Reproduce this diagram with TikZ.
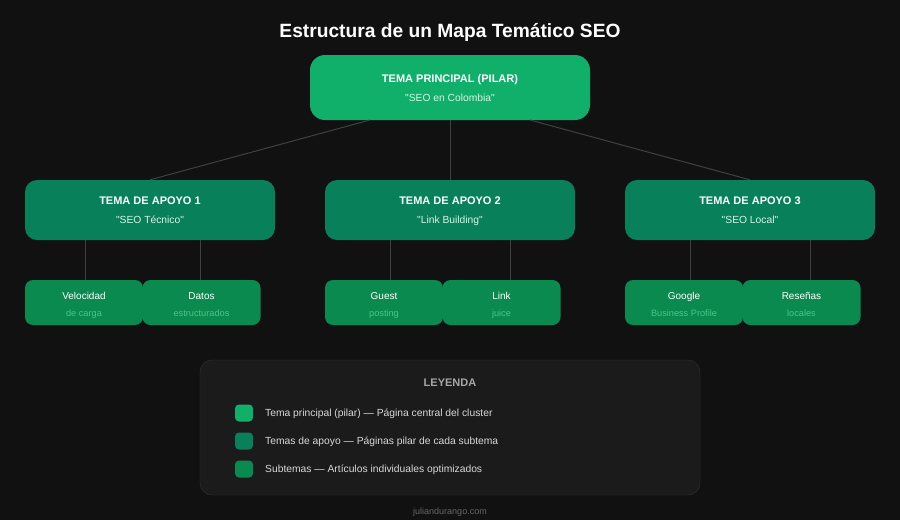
\documentclass[tikz,border=0pt]{standalone}
\usepackage{fontspec}
\setmainfont{Liberation Sans}[Ligatures=TeXOff]
\definecolor{fondo}{HTML}{111111}
\definecolor{pilarverde}{HTML}{10B06B}
\definecolor{apoyoverde}{HTML}{08805A}
\definecolor{subverde}{HTML}{0B8A50}
\definecolor{menta}{HTML}{D6F5E5}
\definecolor{subtexto}{HTML}{4CC583}
\definecolor{linea}{HTML}{404040}
\definecolor{leyfondo}{HTML}{1B1B1B}
\definecolor{leyborde}{HTML}{333333}
\tikzset{
  pilarbox/.style={fill=pilarverde, rounded corners=15pt, minimum width=280pt, minimum height=65pt, inner sep=0pt},
  apoyobox/.style={fill=apoyoverde, rounded corners=12pt, minimum width=250pt, minimum height=60pt, inner sep=0pt},
  subbox/.style={fill=subverde, rounded corners=8pt, minimum width=118pt, minimum height=45pt, inner sep=0pt},
  titulo/.style={text=white, anchor=base, inner sep=0pt, font=\bfseries\fontsize{11}{13}\selectfont},
  cita/.style={text=menta, anchor=base, inner sep=0pt, font=\fontsize{10.3}{12}\selectfont},
  subtit/.style={text=white, anchor=base, inner sep=0pt, font=\fontsize{10}{12}\selectfont},
  subdet/.style={text=subtexto, anchor=base, inner sep=0pt, font=\fontsize{9.2}{11}\selectfont},
  enlace/.style={draw=linea, line width=1pt},
  muestra/.style={rounded corners=4pt, minimum width=18pt, minimum height=17pt, inner sep=0pt},
  leytexto/.style={text=white!85!black, font=\fontsize{10.3}{12}\selectfont, anchor=base west, inner sep=0pt}
}
\begin{document}
\begin{tikzpicture}[x=1pt,y=-1pt]
  \fill[fondo] (0,0) rectangle (900,520);
  \useasboundingbox (0,0) rectangle (900,520);
  \node[text=white, anchor=base, inner sep=0pt, font=\bfseries\fontsize{19.2}{22}\selectfont] (titulo) at (450,37) {Estructura de un Mapa Temático SEO};
  % pilar
  \node[pilarbox] (pilar) at (450,87.5) {};
  \node[titulo] (pilart) at ([yshift=5.5pt]pilar.center) {TEMA PRINCIPAL (PILAR)};
  \node[cita] (pilarc) at ([yshift=-14pt]pilar.center) {"SEO en Colombia"};
  % temas de apoyo
  \node[apoyobox] (apoyo1) at (150,210) {};
  \node[apoyobox] (apoyo2) at (450,210) {};
  \node[apoyobox] (apoyo3) at (750,210) {};
  \node[titulo] at ([yshift=6pt]apoyo1.center) {TEMA DE APOYO 1};
  \node[cita] at ([yshift=-13.5pt]apoyo1.center) {"SEO Técnico"};
  \node[titulo] at ([yshift=6pt]apoyo2.center) {TEMA DE APOYO 2};
  \node[cita] at ([yshift=-13.5pt]apoyo2.center) {"Link Building"};
  \node[titulo] at ([yshift=6pt]apoyo3.center) {TEMA DE APOYO 3};
  \node[cita] at ([yshift=-13.5pt]apoyo3.center) {"SEO Local"};
  \coordinate (pilarizq) at (370,120);
  \coordinate (pilarder) at (530,120);
  \draw[enlace] (pilarizq) -- (apoyo1.north);
  \draw[enlace] (pilar.south) -- (apoyo2.north);
  \draw[enlace] (pilarder) -- (apoyo3.north);
  % conectores a subtemas
  \draw[enlace] (85,240) -- (85,280);
  \draw[enlace] (200,240) -- (200,280);
  \draw[enlace] (390,240) -- (390,280);
  \draw[enlace] (510,240) -- (510,280);
  \draw[enlace] (690,240) -- (690,280);
  \draw[enlace] (810,240) -- (810,280);
  % subtemas
  \node[subbox] (sub1a) at (84,302.5) {};
  \node[subbox] (sub1b) at (201.5,302.5) {};
  \node[subbox] (sub2a) at (384,302.5) {};
  \node[subbox] (sub2b) at (501.5,302.5) {};
  \node[subbox] (sub3a) at (684,302.5) {};
  \node[subbox] (sub3b) at (801.5,302.5) {};
  \node[subtit] at ([yshift=3pt]sub1a.center) {Velocidad};
  \node[subdet] at ([yshift=-13.5pt]sub1a.center) {de carga};
  \node[subtit] at ([yshift=3pt]sub1b.center) {Datos};
  \node[subdet] at ([yshift=-13.5pt]sub1b.center) {estructurados};
  \node[subtit] at ([yshift=3pt]sub2a.center) {Guest};
  \node[subdet] at ([yshift=-13.5pt]sub2a.center) {posting};
  \node[subtit] at ([yshift=3pt]sub2b.center) {Link};
  \node[subdet] at ([yshift=-13.5pt]sub2b.center) {juice};
  \node[subtit] at ([yshift=3pt]sub3a.center) {Google};
  \node[subdet] at ([yshift=-13.5pt]sub3a.center) {Business Profile};
  \node[subtit] at ([yshift=3pt]sub3b.center) {Reseñas};
  \node[subdet] at ([yshift=-13.5pt]sub3b.center) {locales};
  % leyenda
  \node[fill=leyfondo, draw=leyborde, rounded corners=12pt, minimum width=500pt, minimum height=135pt] (leyenda) at (450,427.5) {};
  \node[text=white!65!black, anchor=base, inner sep=0pt, font=\bfseries\fontsize{11}{13}\selectfont] (leyt) at (450,386) {LEYENDA};
  \node[muestra, fill=pilarverde] (m1) at (244,413) {};
  \node[muestra, fill=apoyoverde] (m2) at (244,441) {};
  \node[muestra, fill=subverde] (m3) at (244,469) {};
  \node[leytexto] at (265,416.5) {Tema principal (pilar) — Página central del cluster};
  \node[leytexto] at (265,444.5) {Temas de apoyo — Páginas pilar de cada subtema};
  \node[leytexto] at (265,472.5) {Subtemas — Artículos individuales optimizados};
  \node[text=white!40!black, anchor=base, inner sep=0pt, font=\fontsize{9}{11}\selectfont] (pie) at (450,514) {juliandurango.com};
\end{tikzpicture}
\end{document}
